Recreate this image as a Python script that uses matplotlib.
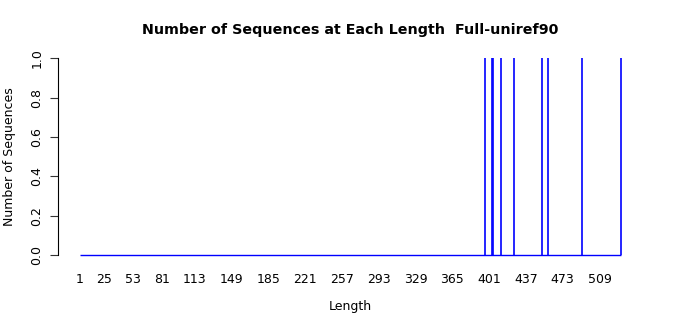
import numpy as np
import matplotlib
matplotlib.use("Agg")
import matplotlib.pyplot as plt

# Data: sequence lengths observed and their counts
lengths = [397, 404, 405, 413, 425, 453, 459, 492, 530]
counts = [1, 1, 1, 1, 1, 1, 1, 1, 1]
min_len = 1
xtick_labels = [1, 25, 53, 81, 113, 149, 185, 221, 257, 293, 329, 365, 401, 437, 473, 509]
ytick_vals = [0.0, 0.2, 0.4, 0.6, 0.8, 1.0]

max_len = max(lengths)

fig = plt.figure(figsize=(7.0, 3.15), dpi=100)
ax = fig.add_axes([0.0834, 0.1654, 0.918 - 0.0834, 0.840 - 0.1654])

ax.hlines(0, min_len, max_len, color="#0000FF", lw=1.0)
ax.vlines(lengths, 0, counts, color="#0000FF", lw=1.2)

xr = max_len - min_len
ax.set_xlim(min_len - 0.04 * xr, max_len + 0.04 * xr)
ax.set_ylim(-0.04, 1.04)

for s in ["top", "right", "bottom"]:
    ax.spines[s].set_visible(False)
ax.spines["left"].set_bounds(0, 1)
ax.spines["left"].set_linewidth(0.8)

ax.set_yticks(ytick_vals)
ax.set_yticklabels([f"{v:.1f}" for v in ytick_vals], rotation=90, va="center", fontsize=9)
ax.tick_params(axis="y", length=5.8, width=0.8, pad=5, color="#333333")

ax.set_xticks(xtick_labels)
ax.set_xticklabels([str(v) for v in xtick_labels], fontsize=9)
ax.tick_params(axis="x", length=0, pad=7)

ax.set_xlabel("Length", fontsize=9, labelpad=10)
ax.set_ylabel("Number of Sequences", fontsize=9, labelpad=10)
fig.text(0.5, 0.905, "Number of Sequences at Each Length  Full-uniref90",
         ha="center", va="center", fontsize=10.3, fontweight="bold")

fig.savefig("out.png", dpi=100)
